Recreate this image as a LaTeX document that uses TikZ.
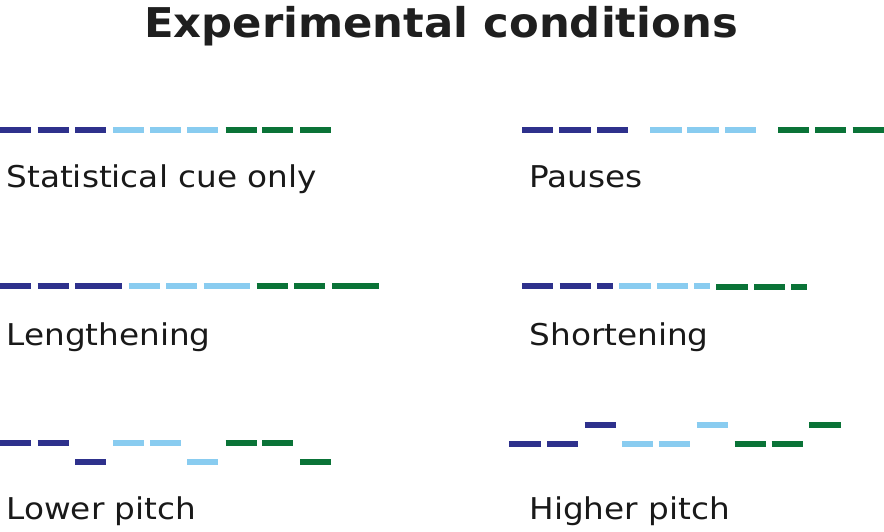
\documentclass[tikz,border=0pt]{standalone}
\usepackage{fontspec}
\setmainfont{DejaVu Sans}
\definecolor{navyc}{RGB}{46,49,140}
\definecolor{lightc}{RGB}{137,204,240}
\definecolor{greenc}{RGB}{10,115,55}
\newcommand{\widetext}[1]{\scalebox{1.09}[1]{#1}}
\newcommand{\widetitle}[1]{\scalebox{1.057}[1]{#1}}
\begin{document}
\begin{tikzpicture}[x=1pt,y=-1pt,
  seg/.style={line width=6pt},
  nv/.style={seg,draw=navyc},
  lb/.style={seg,draw=lightc},
  gr/.style={seg,draw=greenc},
  lab/.style={anchor=base west,inner sep=0pt,font=\fontsize{30}{36}\selectfont,text=black!90},
  ttl/.style={anchor=base,inner sep=0pt,font=\fontsize{41}{48}\selectfont\bfseries,text=black!88}]
\useasboundingbox (0,0) rectangle (884,531);
\node[ttl] (title) at (441,37.3) {\widetitle{Experimental conditions}};
% Row 1 left: statistical cue only
\foreach \a/\b in {0/31,37.7/68.7,75/106} \draw[nv] (\a,129.7) -- (\b,129.7);
\foreach \a/\b in {113/144,150/181,187/218} \draw[lb] (\a,129.7) -- (\b,129.7);
\foreach \a/\b in {225.7/256.7,262.3/293.3,300/331} \draw[gr] (\a,129.7) -- (\b,129.7);
\node[lab] (l1) at (6.3,187.3) {\widetext{Statistical cue only}};
% Row 1 right: pauses
\foreach \a/\b in {522/553.3,559.3/590.7,597/628.3} \draw[nv] (\a,129.7) -- (\b,129.7);
\foreach \a/\b in {650.3/681.7,687.3/718.7,725/756.3} \draw[lb] (\a,129.7) -- (\b,129.7);
\foreach \a/\b in {778.3/809.3,815/846.3,852.7/884} \draw[gr] (\a,129.7) -- (\b,129.7);
\node[lab] (r1) at (529.3,187.3) {\widetext{Pauses}};
% Row 2 left: lengthening
\foreach \a/\b in {0/31,37.7/68.7,75.3/122} \draw[nv] (\a,286.3) -- (\b,286.3);
\foreach \a/\b in {128.7/159.7,166/197,203.7/250.3} \draw[lb] (\a,286.3) -- (\b,286.3);
\foreach \a/\b in {256.7/287.7,294.3/325.3,332/378.7} \draw[gr] (\a,286.3) -- (\b,286.3);
\node[lab] (l2) at (6.3,345) {\widetext{Lengthening}};
% Row 2 right: shortening
\foreach \a/\b in {522/553.3,559.7/590.7,597.3/612.7} \draw[nv] (\a,286.3) -- (\b,286.3);
\foreach \a/\b in {619.3/650.7,657/688,694.3/709.7} \draw[lb] (\a,286.3) -- (\b,286.3);
\foreach \a/\b in {716.3/747.7,754/785,791.3/806.7} \draw[gr] (\a,287.3) -- (\b,287.3);
\node[lab] (r2) at (529.3,345) {\widetext{Shortening}};
% Row 3 left: lower pitch
\foreach \a/\b/\y in {0/31/443.3,37.7/68.7/443.3,75.3/106.3/462} \draw[nv] (\a,\y) -- (\b,\y);
\foreach \a/\b/\y in {113/144/443.3,150/181/443.3,187.3/218.3/462} \draw[lb] (\a,\y) -- (\b,\y);
\foreach \a/\b/\y in {225.7/256.7/443.3,262.3/293.3/443.3,300/331/462} \draw[gr] (\a,\y) -- (\b,\y);
\node[lab] (l3) at (6.3,519.3) {\widetext{Lower pitch}};
% Row 3 right: higher pitch
\foreach \a/\b/\y in {509.3/540.7/443.7,547/578.3/443.7,584.7/616/425} \draw[nv] (\a,\y) -- (\b,\y);
\foreach \a/\b/\y in {622/653.3/443.7,659/690.3/443.7,696.7/728/425} \draw[lb] (\a,\y) -- (\b,\y);
\foreach \a/\b/\y in {734.7/766/443.7,771.7/803/443.7,809.3/840.7/425} \draw[gr] (\a,\y) -- (\b,\y);
\node[lab] (r3) at (529.3,519.3) {\widetext{Higher pitch}};
\end{tikzpicture}
\end{document}
